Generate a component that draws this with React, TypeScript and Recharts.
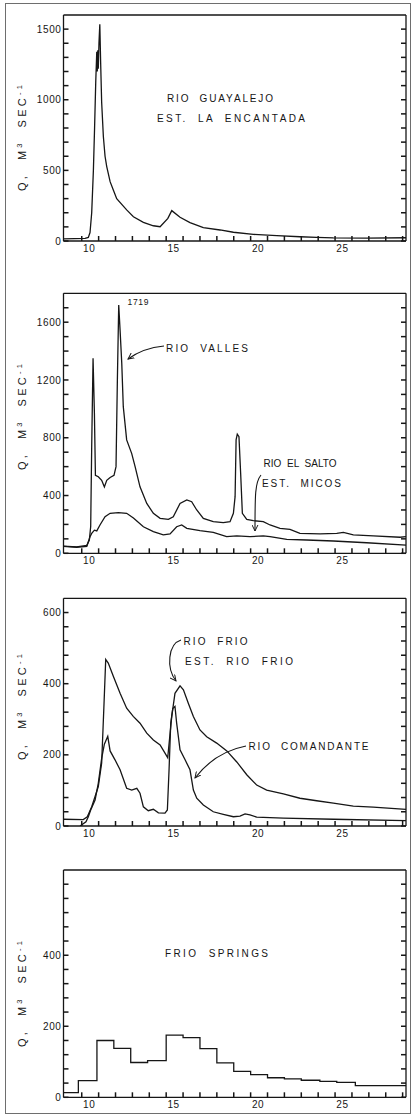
import React from 'react';
import { LineChart, Line, XAxis, YAxis } from 'recharts';

const FONT = "'Liberation Sans', Arial, Helvetica, sans-serif";
const INK = '#161616';

// ---------- axes ----------
const X_DOMAIN: [number, number] = [8.42, 28.7];
const dayTickMarks = [9.5, 10.5, 11.5, 12.5, 13.5, 14.5, 15.5, 16.5, 17.5, 18.5, 19.5, 20.5, 21.5, 22.5, 23.5, 24.5, 25.5, 26.5, 27.5, 28.5];
const dayTickLabels = [10, 15, 20, 25];

const ticks1600 = [0, 100, 200, 300, 400, 500, 600, 700, 800, 900, 1000, 1100, 1200, 1300, 1400, 1500];
const labels1600 = [0, 500, 1000, 1500];
const ticks1800 = [0, 100, 200, 300, 400, 500, 600, 700, 800, 900, 1000, 1100, 1200, 1300, 1400, 1500, 1600, 1700];
const labels1800 = [0, 400, 800, 1200, 1600];
const ticks640 = [0, 40, 80, 120, 160, 200, 240, 280, 320, 360, 400, 440, 480, 520, 560, 600];
const labels640 = [0, 200, 400, 600];
const labelsSprings = [0, 200, 400];

// ---------- data: Rio Guayalejo, Est. La Encantada ----------
const guayalejoDays = [8.42, 9.7, 9.89, 9.99, 10.09, 10.19, 10.26, 10.33, 10.39, 10.42, 10.45, 10.48, 10.52, 10.57, 10.62, 10.68, 10.78, 10.88, 10.98, 11.18, 11.37, 11.57, 12.16, 12.56, 13.15, 13.74, 14.14, 14.6, 14.83, 15.32, 15.91, 16.7, 17.69, 18.48, 19.66, 21.05, 22.42, 23.41, 24.4, 26.37, 28.7];
const guayalejoQ = [15, 18, 25, 60, 200, 500, 800, 1130, 1340, 1200, 1350, 1220, 1400, 1535, 1260, 980, 740, 600, 527, 420, 361, 300, 220, 172, 132, 108, 101, 160, 215, 168, 130, 94, 78, 62, 47, 38, 30, 26, 22, 21, 23];

// ---------- data: Rio Valles ----------
const vallesDays = [8.41, 9.2, 9.8, 9.95, 10.03, 10.09, 10.17, 10.25, 10.31, 10.48, 10.68, 10.84, 10.98, 11.18, 11.41, 11.53, 11.61, 11.69, 11.77, 11.87, 11.96, 12.16, 12.46, 12.66, 12.95, 13.35, 13.74, 14.14, 14.63, 14.92, 15.32, 15.72, 16.01, 16.31, 16.7, 17.29, 17.88, 18.28, 18.48, 18.58, 18.64, 18.71, 18.81, 18.91, 19.01, 19.27, 19.66, 20.25, 20.65, 21.24, 21.83, 22.42, 23.61, 24.6, 24.99, 25.58, 26.76, 28.35, 28.7];
const vallesQ = [50, 45, 55, 92, 185, 740, 1350, 970, 540, 530, 505, 460, 505, 525, 540, 600, 1200, 1719, 1545, 1315, 1015, 785, 690, 600, 460, 345, 277, 242, 235, 253, 345, 369, 357, 300, 242, 219, 212, 219, 277, 392, 785, 825, 807, 553, 277, 235, 226, 219, 196, 173, 166, 138, 134, 138, 145, 127, 120, 111, 115];

// ---------- data: Rio El Salto, Est. Micos ----------
const saltoDays = [8.41, 9.2, 9.8, 9.89, 9.99, 10.09, 10.25, 10.39, 10.58, 10.88, 11.18, 11.67, 12.16, 12.56, 13.15, 13.74, 14.33, 14.73, 15.12, 15.42, 15.72, 16.5, 17.29, 18.08, 18.68, 19.46, 20.25, 20.65, 21.64, 22.82, 24.4, 26.37, 28.7];
const saltoQ = [48, 42, 48, 80, 115, 138, 160, 155, 196, 253, 277, 281, 277, 244, 184, 150, 127, 134, 184, 196, 173, 157, 145, 115, 120, 115, 120, 115, 97, 92, 85, 73, 57];

// ---------- data: Rio Frio, Est. Rio Frio ----------
const frioDays = [8.41, 9.59, 9.83, 10.09, 10.29, 10.48, 10.68, 10.82, 10.92, 11.07, 11.37, 11.77, 12.16, 12.55, 12.95, 13.35, 13.74, 14.14, 14.59, 14.83, 15.02, 15.32, 15.52, 15.81, 16.11, 16.5, 16.9, 17.49, 18.09, 18.68, 19.27, 19.86, 20.45, 21.44, 22.42, 23.41, 24.4, 25.58, 26.76, 28.7];
const frioQ = [19, 18, 26, 54, 83, 111, 177, 345, 468, 458, 421, 373, 331, 308, 289, 261, 242, 228, 192, 308, 373, 394, 383, 345, 308, 270, 251, 233, 211, 180, 144, 115, 101, 90, 78, 71, 64, 56, 53, 47];

// ---------- data: Rio Comandante ----------
const comandanteDays = [9.4, 9.75, 9.89, 10.03, 10.29, 10.48, 10.68, 10.84, 11.04, 11.18, 11.47, 11.77, 12.16, 12.46, 12.76, 12.95, 13.15, 13.44, 13.74, 14.04, 14.43, 14.57, 14.67, 14.77, 14.89, 15.02, 15.12, 15.32, 15.62, 15.91, 16.11, 16.31, 16.7, 17.29, 17.88, 18.48, 18.87, 19.17, 19.46, 19.86, 21.44, 24.4, 28.7];
const comandanteQ = [0, 12, 26, 45, 73, 120, 190, 230, 252, 211, 186, 158, 106, 101, 106, 92, 54, 43, 47, 37, 36, 45, 158, 289, 330, 336, 289, 214, 186, 158, 101, 78, 59, 40, 33, 26, 28, 34, 31, 25, 22, 19, 15];

// ---------- data: Frio Springs (daily steps) ----------
const springsDays = [8.42, 9.3, 10.4, 11.4, 12.4, 13.4, 14.5, 15.5, 16.5, 17.5, 18.5, 19.5, 20.5, 21.5, 22.5, 23.6, 24.6, 25.7, 28.7];
const springsQ = [13, 47, 160, 138, 98, 103, 175, 168, 137, 97, 73, 64, 55, 52, 48, 45, 42, 33, 33];

const toRows = (days: number[], q: number[]) => days.map((d, i) => ({ d, q: q[i] }));

// ---------- tick renderers ----------
const TICK_LEN = 5;
const tickLineStyle = { stroke: INK, strokeWidth: 1.5 };
const axisLineStyle = { stroke: INK, strokeWidth: 1.3 };

const Empty = () => <g />;

const XLabel = (props: any) => {
  const { x, y, payload } = props;
  return (
    <text x={x - 1} y={y + 10} textAnchor="middle" fontSize={10} fontFamily={FONT} fill={INK} letterSpacing={0.6}>
      {payload.value}
    </text>
  );
};

const makeYLabel = (labels: number[]) => (props: any) => {
  const { x, y, payload } = props;
  if (!labels.includes(payload.value)) return <g />;
  return (
    <text x={x} y={y + 3.6} textAnchor="end" fontSize={10} fontFamily={FONT} fill={INK} letterSpacing={0.6}>
      {payload.value}
    </text>
  );
};

type Series = { rows: { d: number; q: number }[]; step?: boolean };
type PanelProps = {
  top: number;
  height: number;
  mTop: number;
  mBottom: number;
  yMax: number;
  yTicks: number[];
  yLabels: number[];
  series: Series[];
};

const Panel = ({ top, height, mTop, mBottom, yMax, yTicks, yLabels, series }: PanelProps) => (
  <div style={{ position: 'absolute', left: 0, top, width: 412, height }}>
    <LineChart width={412} height={height} margin={{ top: mTop - 1, right: 5, bottom: mBottom, left: 23.5 }}>
      <XAxis xAxisId="b" dataKey="d" type="number" domain={X_DOMAIN} allowDataOverflow ticks={dayTickMarks} interval={0}
        tickSize={-TICK_LEN} tickMargin={0} tickLine={tickLineStyle} tick={Empty} stroke={INK} axisLine={axisLineStyle} height={1} />
      <XAxis xAxisId="lab" dataKey="d" type="number" domain={X_DOMAIN} allowDataOverflow ticks={dayTickLabels} interval={0}
        tickSize={0} tickMargin={0} tickLine={false} axisLine={false} tick={XLabel} height={19} />
      <XAxis xAxisId="t" dataKey="d" orientation="top" type="number" domain={X_DOMAIN} allowDataOverflow
        tick={false} tickLine={false} stroke={INK} axisLine={axisLineStyle} height={1} />
      <YAxis yAxisId="l" type="number" domain={[0, yMax]} allowDataOverflow ticks={yTicks} interval={0}
        tickSize={-TICK_LEN} tickMargin={TICK_LEN + 2} tickLine={tickLineStyle} tick={makeYLabel(yLabels)}
        stroke={INK} axisLine={axisLineStyle} width={40} />
      <YAxis yAxisId="r" orientation="right" type="number" domain={[0, yMax]} allowDataOverflow ticks={yTicks} interval={0}
        tickSize={-TICK_LEN} tickMargin={0} tickLine={tickLineStyle} tick={Empty} stroke={INK} axisLine={axisLineStyle} width={1} />
      {/* invisible twins so the frame and label axes are active */}
      <Line xAxisId="t" yAxisId="r" data={series[0].rows} dataKey="q" stroke="none" dot={false} activeDot={false} isAnimationActive={false} />
      <Line xAxisId="lab" yAxisId="r" data={series[0].rows} dataKey="q" stroke="none" dot={false} activeDot={false} isAnimationActive={false} />
      {series.map((s, i) => (
        <Line key={i} xAxisId="b" yAxisId="l" data={s.rows} dataKey="q" type={s.step ? 'stepAfter' : 'linear'}
          stroke={INK} strokeWidth={1.3} dot={false} activeDot={false} isAnimationActive={false} />
      ))}
    </LineChart>
  </div>
);

// ---------- annotation layout ----------
const yTitleCenters = [138, 417, 707, 994];

type Note = { text: string; x: number; y: number; w: number; size?: number };
const notes: Note[] = [
  { text: 'RIO  GUAYALEJO', x: 167, y: 101.5, w: 106 },
  { text: 'EST.  LA  ENCANTADA', x: 157, y: 121.5, w: 148 },
  { text: '1719', x: 127.5, y: 305, w: 21, size: 8.5 },
  { text: 'RIO  VALLES', x: 166, y: 351.5, w: 82 },
  { text: 'RIO  EL  SALTO', x: 263.5, y: 466.5, w: 73 },
  { text: 'EST.  MICOS', x: 262, y: 486.5, w: 79 },
  { text: 'RIO  FRIO', x: 183.5, y: 645, w: 64 },
  { text: 'EST.  RIO  FRIO', x: 185, y: 665, w: 108 },
  { text: 'RIO  COMANDANTE', x: 248.5, y: 750, w: 120 },
  { text: 'FRIO  SPRINGS', x: 165, y: 956.5, w: 103 },
];

const arrows = [
  'M164,346 Q143,348 128,359',
  'M261,475 C255,482 255,495 255,531',
  'M181,640 C168,644 166,668 176,681',
  'M246,746 Q215,752 195,778',
];

export default function App() {
  return (
    <div style={{ position: 'absolute', left: 0, top: 0, width: 412, height: 1118, background: '#fff', overflow: 'hidden' }}>
      <div style={{ position: 'absolute', left: 5, top: 3, width: 404, height: 1109, border: '1.6px solid #6e6e6e' }} />
      <Panel top={0} height={270} mTop={15} mBottom={9} yMax={1600} yTicks={ticks1600} yLabels={labels1600}
        series={[{ rows: toRows(guayalejoDays, guayalejoQ) }]} />
      <Panel top={280} height={300} mTop={13.3} mBottom={6.7} yMax={1800} yTicks={ticks1800} yLabels={labels1800}
        series={[{ rows: toRows(vallesDays, vallesQ) }, { rows: toRows(saltoDays, saltoQ) }]} />
      <Panel top={580} height={280} mTop={18.3} mBottom={14} yMax={640} yTicks={ticks640} yLabels={labels640}
        series={[{ rows: toRows(frioDays, frioQ) }, { rows: toRows(comandanteDays, comandanteQ) }]} />
      <Panel top={860} height={258} mTop={10} mBottom={0.7} yMax={640} yTicks={ticks640} yLabels={labelsSprings}
        series={[{ rows: toRows(springsDays, springsQ), step: true }]} />
      <svg width={412} height={1118} style={{ position: 'absolute', left: 0, top: 0, pointerEvents: 'none' }}>
        <defs>
          <marker id="arr" viewBox="0 0 8 8" refX="7" refY="4" markerWidth="7" markerHeight="7" orient="auto" markerUnits="userSpaceOnUse">
            <path d="M0,0.6 L7,4 L0,7.4" fill="none" stroke={INK} strokeWidth={1.1} />
          </marker>
        </defs>
        {yTitleCenters.map((cy, i) => (
          <text key={i} transform={`translate(26,${cy}) rotate(-90)`} textAnchor="middle" fontSize={11}
            fontFamily={FONT} fill={INK} textLength={106} lengthAdjust="spacing" style={{ whiteSpace: 'pre' }}>
            {'Q,  M'}
            <tspan fontSize={7.5} dy={-4}>3</tspan>
            <tspan dy={4}>{'  SEC'}</tspan>
            <tspan fontSize={7.5} dy={-4}>-1</tspan>
          </text>
        ))}
        {notes.map((n, i) => (
          <text key={i} x={n.x} y={n.y} fontSize={n.size ?? 10} fontFamily={FONT} fill={INK}
            textLength={n.w} lengthAdjust="spacing" style={{ whiteSpace: 'pre' }}>
            {n.text}
          </text>
        ))}
        {arrows.map((d, i) => (
          <path key={i} d={d} fill="none" stroke={INK} strokeWidth={1.1} markerEnd="url(#arr)" />
        ))}
      </svg>
    </div>
  );
}
